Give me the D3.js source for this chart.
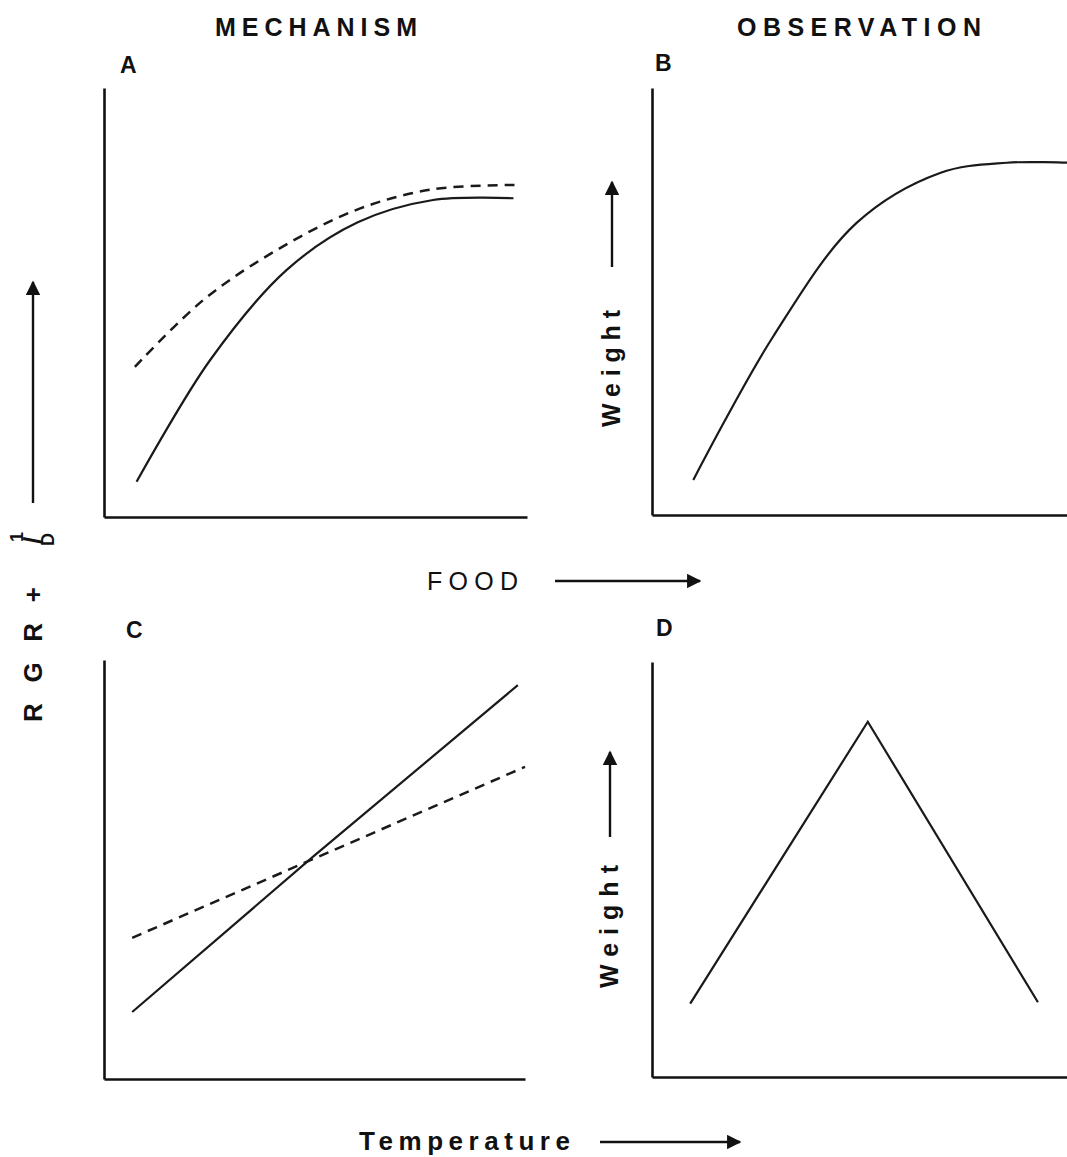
<!DOCTYPE html>
<html>
<head>
<meta charset="utf-8">
<script src="https://cdn.jsdelivr.net/npm/d3@7"></script>
<style>
  body { margin: 0; background: #fff; }
  svg text { font-family: "Liberation Sans", Arial, Helvetica, sans-serif; fill: #111; }
</style>
</head>
<body>
<div id="graph"></div>
<script>
// values, both axes in arbitrary units 0..100

// A: RGR (solid) and RGR + 1/D (dashed) against food
var foodRGR = [[7.7, 8.2], [25.1, 36.6], [43.2, 57.6], [60.0, 68.7], [77.8, 73.9], [96.8, 74.3]]
var foodRGRD = [[7.3, 35.0], [23.5, 50.6], [40.8, 62.2], [59.7, 71.6], [77.8, 76.4], [97.2, 77.4]]

// B: weight against food
var foodWeight = [[9.95, 8.2], [29.2, 41.8], [49.3, 68.4], [69.4, 80.1], [85.5, 82.5], [100, 82.5]]

// C: RGR (solid) and RGR + 1/D (dashed) against temperature
var tempRGR = [[6.7, 16.0], [49.6, 53.0], [98.3, 94.0]]
var tempRGRD = [[6.7, 33.7], [100, 74.5]]

// D: weight against temperature
var tempWeight = [[9.2, 17.7], [52.0, 85.6], [93.0, 18.0]]

var panels = [
  {id: 'A', x: [104, 527], y: [517, 88], series: [{d: foodRGR, smooth: true}, {d: foodRGRD, dash: true, smooth: true}]},
  {id: 'B', x: [652, 1067], y: [515, 88], series: [{d: foodWeight, smooth: true}]},
  {id: 'C', x: [104, 525], y: [1079, 660], series: [{d: tempRGR}, {d: tempRGRD, dash: true}]},
  {id: 'D', x: [652, 1067], y: [1077, 662], series: [{d: tempWeight}]}
]

var svg = d3.select('#graph').append('svg')
  .attr('width', 1067).attr('height', 1157)

var defs = svg.append('defs')
defs.append('marker')
  .attr('id', 'head')
  .attr('viewBox', '0 0 10 10')
  .attr('refX', 9).attr('refY', 5)
  .attr('markerWidth', 8).attr('markerHeight', 6)
  .attr('markerUnits', 'strokeWidth')
  .attr('orient', 'auto')
  .append('path').attr('d', 'M0,0 L10,5 L0,10 Z').attr('fill', '#111')

panels.forEach(p => {
  var x = d3.scaleLinear().domain([0, 100]).range(p.x)
  var y = d3.scaleLinear().domain([0, 100]).range(p.y)
  var g = svg.append('g')

  g.append('g')
    .attr('transform', 'translate(' + p.x[0] + ',0)')
    .call(d3.axisLeft(y).tickValues([]).tickSizeOuter(0))
  g.append('g')
    .attr('transform', 'translate(0,' + p.y[0] + ')')
    .call(d3.axisBottom(x).tickValues([]).tickSizeOuter(0))
  g.selectAll('.domain').attr('stroke', '#111').attr('stroke-width', 2.6)

  p.series.forEach(s => {
    var line = d3.line()
      .x(d => x(d[0]))
      .y(d => y(d[1]))
      .curve(s.smooth ? d3.curveCatmullRom.alpha(0.5) : d3.curveLinear)
    g.append('path')
      .attr('d', line(s.d))
      .attr('fill', 'none')
      .attr('stroke', '#1a1a1a')
      .attr('stroke-width', s.dash ? 2.5 : 2.2)
      .attr('stroke-dasharray', s.dash ? '10,7' : null)
  })
})

// titles and panel letters
function label(txt, x, y, size, len, weight){
  var t = svg.append('text').text(txt)
    .attr('x', x).attr('y', y)
    .attr('font-size', size)
    .attr('font-weight', weight || 'bold')
  if (len) t.attr('textLength', len).attr('lengthAdjust', 'spacing')
  return t
}
label('MECHANISM', 215, 36, 25, 202)
label('OBSERVATION', 737, 36, 25, 244)
label('A', 120, 73, 23)
label('B', 655, 71, 23)
label('C', 126, 638, 23)
label('D', 656, 636, 23)
label('FOOD', 427, 590, 25, 91, 'normal')
label('Temperature', 359, 1150, 26, 211)

// axis direction arrows
function arrow(x1, y1, x2, y2){
  svg.append('line')
    .attr('x1', x1).attr('y1', y1).attr('x2', x2).attr('y2', y2)
    .attr('stroke', '#111').attr('stroke-width', 2.4)
    .attr('marker-end', 'url(#head)')
}
arrow(555, 581, 700, 581)
arrow(600, 1142, 740, 1142)
arrow(33, 503, 33, 282)
arrow(612, 267, 612, 182)
arrow(610, 837, 610, 752)

// rotated labels
function vlabel(txt, x, y, size, len){
  svg.append('text').text(txt)
    .attr('transform', 'translate(' + x + ',' + y + ') rotate(-90)')
    .attr('font-size', size).attr('font-weight', 'bold')
    .attr('textLength', len).attr('lengthAdjust', 'spacing')
}
vlabel('Weight', 620, 427, 25, 117)
vlabel('Weight', 618, 988, 25, 123)

var yl = svg.append('g').attr('transform', 'translate(42,722) rotate(-90)')
yl.append('text').text('R G R +')
  .attr('font-size', 26).attr('font-weight', 'bold')
  .attr('textLength', 135).attr('lengthAdjust', 'spacing')
yl.append('text').text('1').attr('x', 180).attr('y', -19)
  .attr('font-size', 18).attr('font-weight', 'bold')
yl.append('text').text('/').attr('x', 178).attr('y', 0)
  .attr('font-size', 26).attr('font-weight', 'bold')
yl.append('text').text('D').attr('x', 176).attr('y', 12)
  .attr('font-size', 18).attr('font-weight', 'bold')
</script>
</body>
</html>
